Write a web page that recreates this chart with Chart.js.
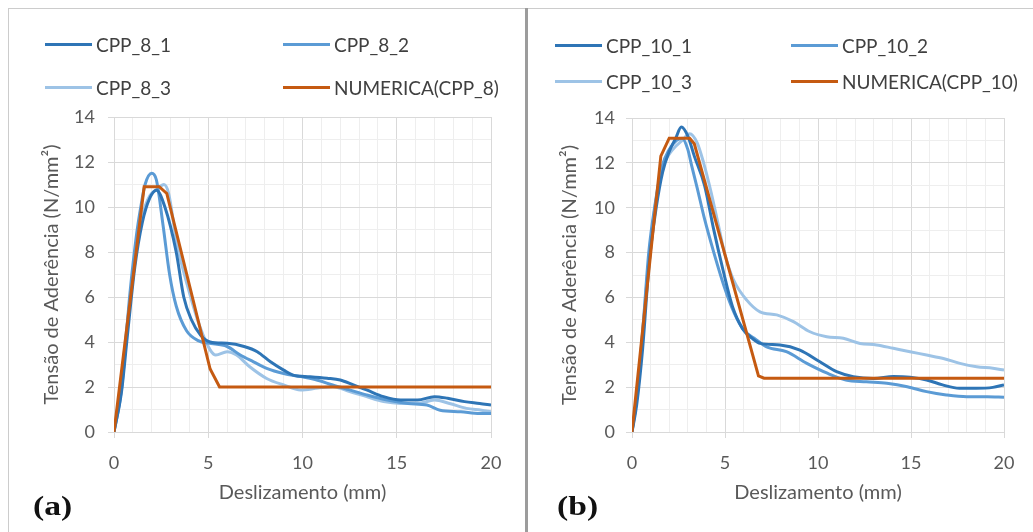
<!DOCTYPE html>
<html lang="pt-BR">
<head>
<meta charset="UTF-8">
<title>Tensão de Aderência x Deslizamento</title>
<script src="https://cdn.jsdelivr.net/npm/chart.js"></script>
<style>
  body { margin: 0; background: #ffffff; font-family: Lato, sans-serif; }
  #page { position: relative; width: 1033px; height: 532px; overflow: hidden; background: #fff; }
  canvas { position: absolute; top: 0; }
  #chartA { left: 0; }
  #chartB { left: 527px; }
  .frame-top { position: absolute; top: 8px; left: 8px; right: 0; height: 1px; background: #cccccc; }
  .frame-left { position: absolute; top: 8px; left: 8px; bottom: 0; width: 1px; background: #cccccc; }
  .divider { position: absolute; top: 8px; left: 525px; bottom: 0; width: 3px; background: #9c9c9c; }
  .leg { position: absolute; display: flex; align-items: center; height: 24px; font-size: 19px; color: #404040; white-space: nowrap; }
  .leg span.line { display: inline-block; width: 47px; height: 3px; margin-right: 4px; }
  .tag { position: absolute; font-family: 'Liberation Serif', serif; font-weight: bold; font-size: 28px; color: #111;
         transform: scaleX(1.2); transform-origin: left center; }
</style>
</head>
<body>
<div id="page">
  <div class="frame-top"></div>
  <div class="frame-left"></div>
  <div class="divider"></div>
  <canvas id="chartA" width="527" height="532"></canvas>
  <canvas id="chartB" width="506" height="532"></canvas>
  <div id="legA"></div>
  <div id="legB"></div>
  <div class="tag" style="left:33px; top:490px;">(a)</div>
  <div class="tag" style="left:557px; top:490px;">(b)</div>
</div>

<script>
// ensaios CPP_8 : [deslizamento (mm), tensão (N/mm²)]
const cpp8_1 = [[0,0],[0.4,1.8],[0.7,4.2],[1.1,7.3],[1.5,9.3],[1.9,10.4],[2.25,10.75],[2.7,10.0],[3.3,8.0],[3.7,6.0],[4.1,5.0],[4.6,4.3],[5.1,4.0],[6.0,3.94],[6.9,3.8],[7.6,3.57],[8.3,3.12],[9.0,2.75],[9.5,2.53],[10.4,2.46],[11.3,2.39],[12.0,2.31],[12.7,2.09],[13.4,1.87],[14.3,1.57],[15.2,1.42],[16.1,1.42],[17.0,1.57],[17.7,1.5],[18.6,1.35],[19.4,1.27],[20,1.2]];
const cpp8_2 = [[0,0],[0.4,1.9],[0.85,6.2],[1.2,8.8],[1.4,9.9],[1.65,11.0],[2.0,11.5],[2.25,11.2],[2.6,9.2],[2.95,7.0],[3.3,5.6],[3.85,4.5],[4.5,4.05],[5.0,3.95],[6.0,3.8],[6.7,3.42],[7.4,3.12],[8.1,2.83],[9.0,2.6],[9.9,2.46],[10.8,2.3],[11.6,2.09],[12.5,1.87],[13.4,1.65],[14.5,1.42],[15.6,1.27],[16.6,1.2],[17.3,0.97],[18.4,0.9],[19.4,0.82],[20,0.82]];
const cpp8_3 = [[0,0],[0.35,2.0],[0.7,4.8],[1.1,7.6],[1.5,9.6],[1.9,10.5],[2.3,10.8],[2.65,11.0],[2.9,10.6],[3.33,8.4],[4.0,6.2],[4.55,4.7],[5.1,3.65],[5.4,3.42],[6.0,3.57],[6.5,3.42],[7.2,2.9],[8.1,2.38],[9.0,2.09],[9.9,1.87],[10.8,1.95],[11.6,2.01],[12.5,1.8],[13.4,1.57],[14.3,1.35],[15.2,1.27],[16.1,1.27],[17.0,1.42],[17.8,1.27],[18.7,1.05],[19.5,0.97],[20,0.9]];
const num8 = [[0,0],[1.6,10.9],[2.4,10.9],[2.8,10.6],[5.1,2.8],[5.6,2.0],[20,2.0]];

// ensaios CPP_10
const cpp10_1 = [[0,0],[0.25,1.2],[0.57,3.7],[0.93,7.6],[1.3,10.0],[1.65,11.6],[2.0,12.5],[2.35,13.1],[2.65,13.6],[3.0,13.2],[3.35,12.3],[3.9,11.0],[4.4,9.0],[4.9,7.2],[5.4,5.6],[5.95,4.6],[6.5,4.15],[6.9,3.95],[7.96,3.88],[9.03,3.65],[10.1,3.13],[11.0,2.69],[11.9,2.47],[13.0,2.39],[14.05,2.47],[14.95,2.44],[15.84,2.32],[16.7,2.1],[17.6,1.95],[18.5,1.95],[19.4,1.99],[20,2.1]];
const cpp10_2 = [[0,0],[0.25,1.5],[0.55,4.2],[0.9,8.0],[1.25,10.2],[1.6,11.8],[2.0,12.6],[2.4,13.0],[2.7,13.1],[3.0,12.6],[3.2,11.9],[3.5,10.9],[3.9,9.5],[4.4,8.0],[4.95,6.5],[5.5,5.3],[6.0,4.55],[6.57,4.18],[7.24,3.8],[8.3,3.58],[9.4,3.06],[10.5,2.62],[11.5,2.32],[12.6,2.24],[13.7,2.17],[14.8,2.02],[15.84,1.8],[16.9,1.65],[18.0,1.57],[19.1,1.57],[20,1.55]];
const cpp10_3 = [[0,0],[0.3,1.8],[0.6,4.8],[0.95,8.0],[1.3,10.4],[1.7,11.9],[2.2,12.6],[2.7,13.0],[3.1,13.3],[3.5,12.9],[3.85,12.0],[4.25,10.7],[4.65,9.2],[5.0,7.9],[5.45,6.8],[6.17,5.88],[6.88,5.36],[7.78,5.22],[8.68,4.92],[9.57,4.47],[10.47,4.25],[11.36,4.18],[12.26,3.95],[13.15,3.88],[14.05,3.73],[14.95,3.58],[15.84,3.43],[16.74,3.28],[17.63,3.06],[18.53,2.91],[19.4,2.84],[20,2.76]];
const num10 = [[0,0],[1.55,12.3],[2.0,13.1],[3.1,13.1],[3.35,12.85],[6.8,2.5],[7.1,2.4],[20,2.4]];

const namesA = ['CPP_8_1', 'CPP_8_2', 'CPP_8_3', 'NUMERICA(CPP_8)'];
const namesB = ['CPP_10_1', 'CPP_10_2', 'CPP_10_3', 'NUMERICA(CPP_10)'];
const colors = ['#2E75B6', '#5B9BD5', '#9DC3E6', '#C55A11'];

const xTitle = 'Deslizamento (mm)';
const yTitle = 'Tensão de Aderência (N/mm²)';

Chart.defaults.font.family = 'Lato, sans-serif';
Chart.defaults.color = '#595959';

const MAJOR = '#d9d9d9';
const MINOR = '#eeeeee';

function makePanel(id, series, names, box) {
  const datasets = series.map((pts, i) => ({
    label: names[i],
    data: pts.map(p => ({ x: p[0], y: p[1] })),
    borderColor: colors[i],
    borderWidth: 3,
    pointRadius: 0,
    fill: false,
    // curva numérica é poligonal, ensaios suavizados
    cubicInterpolationMode: i === 3 ? 'default' : 'monotone',
    tension: i === 3 ? 0 : 0.4,
    order: i === 3 ? 0 : i + 1
  }));

  return new Chart(document.getElementById(id), {
    type: 'line',
    data: { datasets },
    options: {
      responsive: false,
      animation: false,
      layout: { padding: { top: box.top, right: box.right, bottom: 0, left: 0 } },
      plugins: { legend: { display: false }, tooltip: { enabled: false } },
      scales: {
        x: {
          type: 'linear', min: 0, max: 20,
          afterFit: s => { s.height = 100; },
          ticks: {
            stepSize: 1, autoSkip: false, maxRotation: 0, padding: 14,
            font: { size: 18 },
            callback: v => (v % 5 === 0 ? v : '')
          },
          grid: {
            color: c => (c.tick && c.tick.value % 5 === 0 ? MAJOR : MINOR),
            tickColor: c => (c.tick && c.tick.value % 5 === 0 ? MAJOR : 'transparent'),
            tickLength: 6
          },
          border: { color: MAJOR },
          title: { display: true, text: xTitle, font: { size: 20 }, padding: { top: 0, bottom: 27 } }
        },
        y: {
          min: 0, max: 14,
          afterFit: s => { s.width = box.left; },
          ticks: {
            stepSize: 1, autoSkip: false, padding: box.tickPad,
            font: { size: 18 },
            callback: v => (v % 2 === 0 ? v : '')
          },
          grid: {
            color: c => (c.tick && c.tick.value % 2 === 0 ? MAJOR : MINOR),
            tickColor: c => (c.tick && c.tick.value % 2 === 0 ? MAJOR : 'transparent'),
            tickLength: 6
          },
          border: { color: MAJOR },
          title: { display: true, text: yTitle, font: { size: 20 }, padding: { top: box.titlePad, bottom: 0 } }
        }
      }
    }
  });
}

function makeLegend(id, names, slots) {
  const host = document.getElementById(id);
  names.forEach((n, i) => {
    const d = document.createElement('div');
    d.className = 'leg';
    d.style.left = slots[i][0] + 'px';
    d.style.top = (slots[i][1] - 12) + 'px';
    d.innerHTML = '<span class="line" style="background:' + colors[i] + '"></span>' + n;
    host.appendChild(d);
  });
}

makePanel('chartA', [cpp8_1, cpp8_2, cpp8_3, num8], namesA,
  { top: 117, right: 36, left: 114, tickPad: 13, titlePad: 40 });
makePanel('chartB', [cpp10_1, cpp10_2, cpp10_3, num10], namesB,
  { top: 118, right: 29, left: 105, tickPad: 11, titlePad: 31 });

makeLegend('legA', namesA, [[45, 44], [283, 44], [45, 87], [283, 87]]);
makeLegend('legB', namesB, [[555, 45], [791, 45], [555, 81], [791, 81]]);
</script>
</body>
</html>
